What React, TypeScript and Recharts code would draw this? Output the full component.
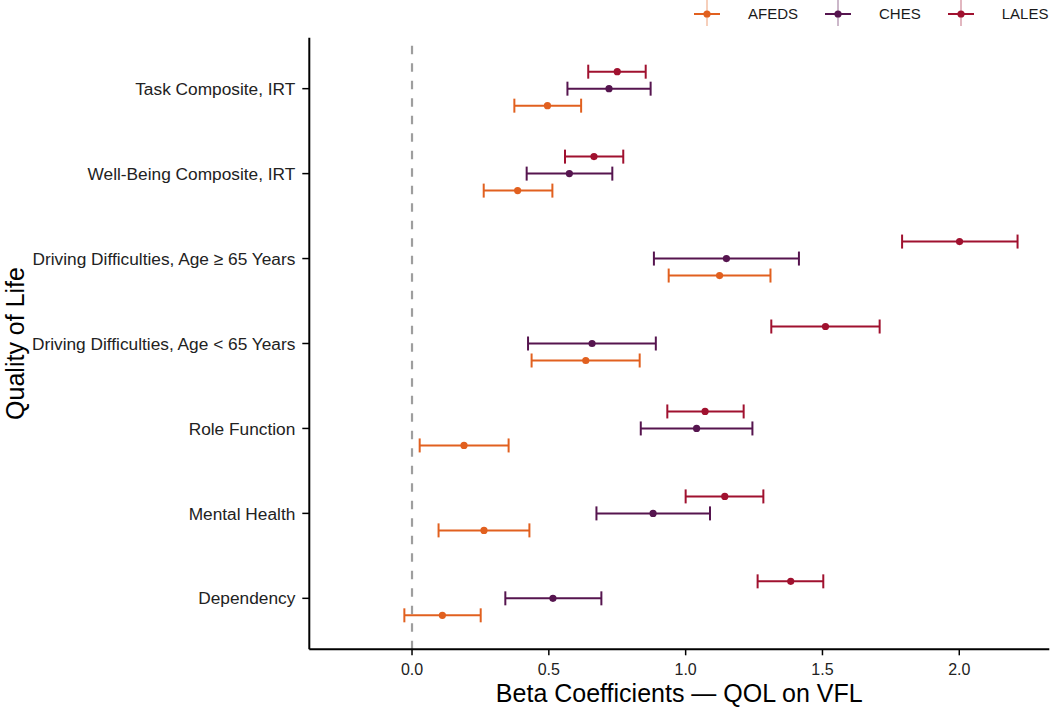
import React from 'react';
import { ScatterChart, Scatter, XAxis, YAxis, ErrorBar, ReferenceLine, Legend } from 'recharts';

// Categories listed top to bottom
const categories = [
  'Task Composite, IRT',
  'Well-Being Composite, IRT',
  'Driving Difficulties, Age \u2265 65 Years',
  'Driving Difficulties, Age < 65 Years',
  'Role Function',
  'Mental Health',
  'Dependency',
];

const afedsEst = [0.495, 0.386, 1.124, 0.635, 0.19, 0.263, 0.111];
const afedsLo = [0.374, 0.262, 0.938, 0.437, 0.028, 0.097, -0.028];
const afedsHi = [0.618, 0.513, 1.31, 0.832, 0.353, 0.429, 0.251];

const chesEst = [0.72, 0.575, 1.149, 0.658, 1.04, 0.881, 0.515];
const chesLo = [0.568, 0.419, 0.884, 0.424, 0.836, 0.674, 0.341];
const chesHi = [0.872, 0.732, 1.414, 0.891, 1.244, 1.089, 0.692];

const lalesEst = [0.75, 0.665, 2.001, 1.511, 1.071, 1.143, 1.384];
const lalesLo = [0.644, 0.559, 1.791, 1.313, 0.933, 1.0, 1.263];
const lalesHi = [0.854, 0.772, 2.213, 1.709, 1.212, 1.284, 1.503];

const xTicks = [0, 0.5, 1, 1.5, 2];

const FONT = '"Liberation Sans", Arial, Helvetica, sans-serif';

type Row = { x: number; y: number; err: [number, number]; cat: string };

const n = categories.length;
const build = (est: number[], lo: number[], hi: number[], dodge: number): Row[] =>
  est.map((v, i) => ({
    x: v,
    y: n - i + dodge,
    err: [v - lo[i], hi[i] - v],
    cat: categories[i],
  }));

const series = [
  { name: 'AFEDS', color: '#E1601F', data: build(afedsEst, afedsLo, afedsHi, -0.2) },
  { name: 'CHES', color: '#56154F', data: build(chesEst, chesLo, chesHi, 0) },
  { name: 'LALES', color: '#A0112F', data: build(lalesEst, lalesLo, lalesHi, 0.2) },
];

const yTicks = categories.map((_, i) => n - i);
const yLabel = (v: number) => categories[n - v] ?? '';

const LegendContent = () => (
  <div style={{ display: 'flex', alignItems: 'center', fontFamily: FONT, fontSize: 15, color: '#1a1a1a' }}>
    {series.map((s) => (
      <div key={s.name} style={{ display: 'flex', alignItems: 'center', marginRight: 27 }}>
        <svg width={26} height={28} style={{ display: 'block' }}>
          <line x1={13} y1={0} x2={13} y2={26} stroke={s.color} strokeOpacity={0.3} strokeWidth={2} />
          <line x1={0} y1={14} x2={26} y2={14} stroke={s.color} strokeWidth={2} />
          <circle cx={13} cy={14} r={3.6} fill={s.color} />
        </svg>
        <span style={{ marginLeft: 28, lineHeight: '28px' }}>{s.name}</span>
      </div>
    ))}
  </div>
);

const XTick = (props: any) => {
  const { x, y, payload } = props;
  return (
    <text x={x} y={y} dy="0.71em" textAnchor="middle" style={{ fontSize: 16, fill: '#222', fontFamily: FONT }}>
      {Number(payload.value).toFixed(1)}
    </text>
  );
};

const YTick = (props: any) => {
  const { x, y, payload } = props;
  return (
    <text x={x} y={y} dy="0.355em" textAnchor="end" style={{ fontSize: 17.3, fill: '#222', fontFamily: FONT }}>
      {yLabel(payload.value)}
    </text>
  );
};

export default function App() {
  return (
    <div style={{ position: 'absolute', left: 0, top: 0, width: 1050, height: 707, background: '#fff' }}>
      <ScatterChart
        width={1050}
        height={707}
        margin={{ top: 37.7, right: 0.7, left: 0, bottom: 0 }}
        style={{ fontFamily: FONT }}
      >
        <XAxis
          type="number"
          dataKey="x"
          domain={[-0.3754, 2.329]}
          ticks={xTicks}
          allowDataOverflow
          height={57.7}
          axisLine={{ stroke: '#000', strokeWidth: 2 }}
          tickLine={{ stroke: '#000', strokeWidth: 1.5 }}
          tickSize={6}
          tickMargin={8}
          tick={XTick}
          label={{
            value: 'Beta Coefficients \u2014 QOL on VFL',
            position: 'insideBottom',
            offset: 5,
            style: { fontSize: 25, fill: '#000', fontFamily: FONT },
          }}
        />
        <YAxis
          type="number"
          dataKey="y"
          domain={[0.4, 7.6]}
          ticks={yTicks}
          allowDataOverflow
          interval={0}
          width={309.3}
          axisLine={{ stroke: '#000', strokeWidth: 2 }}
          tickLine={{ stroke: '#000', strokeWidth: 1.5 }}
          tickSize={7}
          tickMargin={7}
          tick={YTick}
          label={{
            value: 'Quality of Life',
            content: (props: any) => {
              const vb = props.viewBox || {};
              const cy = (vb.y ?? 0) + (vb.height ?? 0) / 2;
              const x = 24;
              return (
                <text
                  x={x}
                  y={cy}
                  transform={`rotate(-90, ${x}, ${cy})`}
                  textAnchor="middle"
                  style={{ fontSize: 25, fill: '#000', fontFamily: FONT }}
                >
                  Quality of Life
                </text>
              );
            },
          }}
        />
        <ReferenceLine x={0} stroke="#9E9E9E" strokeWidth={2.2} strokeDasharray="8.5 9" ifOverflow="extendDomain" />
        <Legend
          layout="vertical"
          align="center"
          verticalAlign="middle"
          content={LegendContent}
          wrapperStyle={{ position: 'absolute', left: 694, top: 0, width: 356, height: 28 }}
        />
        {series.map((s) => (
          <Scatter
            key={s.name}
            name={s.name}
            data={s.data}
            fill={s.color}
            isAnimationActive={false}
            shape={(p: any) => <circle cx={p.cx} cy={p.cy} r={3.6} fill={s.color} />}
          >
            <ErrorBar
              dataKey="err"
              direction="x"
              width={7}
              stroke={s.color}
              strokeWidth={2}
              isAnimationActive={false}
            />
          </Scatter>
        ))}
      </ScatterChart>
    </div>
  );
}
